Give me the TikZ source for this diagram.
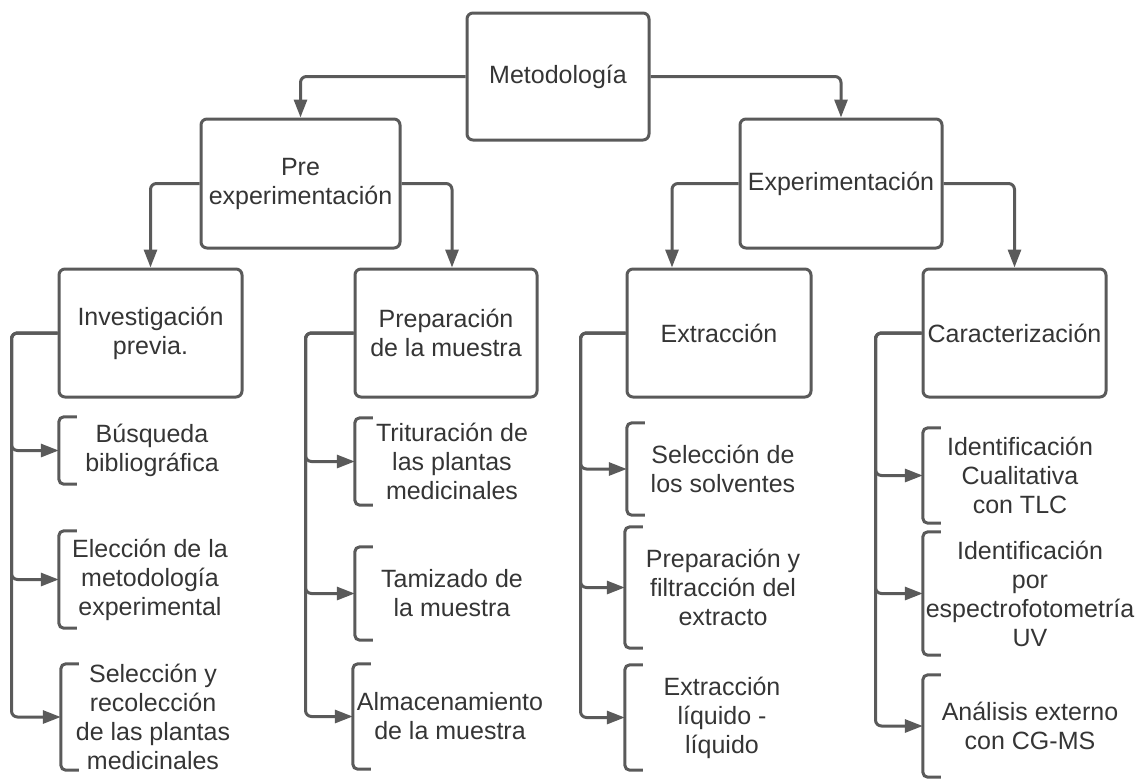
\documentclass[tikz,border=0pt]{standalone}
\usepackage{fontspec}
\setmainfont{Liberation Sans}
\usetikzlibrary{arrows.meta}

\definecolor{linegray}{HTML}{5A5A5A}
\definecolor{textgray}{HTML}{353535}

\tikzset{
  box/.style={draw=linegray, line width=3pt, rounded corners=6pt, fill=white,
    align=center, inner sep=0pt, text=textgray},
  item/.style={align=center, inner sep=0pt, text=textgray},
  conn/.style={draw=linegray, line width=3pt, rounded corners=6pt,
    -{Triangle[length=18pt,width=13pt]}},
  brk/.style={draw=linegray, line width=3pt, rounded corners=5pt},
}

\begin{document}
\begin{tikzpicture}[x=1pt, y=-1pt,
  every node/.style={font=\fontsize{25}{29}\selectfont}]

  \useasboundingbox (0,0) rectangle (1148,780);

  % --- Main boxes ---
  \node[box, minimum width=182pt, minimum height=127pt] (metod) at (558,76.5) {Metodología};

  \node[box, minimum width=199pt, minimum height=129pt] (pre) at (300.5,183.5) {Pre\\experimentación};
  \node[box, minimum width=202pt, minimum height=129pt] (exper) at (841,183.5) {Experimentación};

  \node[box, minimum width=183pt, minimum height=128pt] (inv) at (150.5,333) {Investigación\\previa.};
  \node[box, minimum width=182pt, minimum height=128pt] (prep) at (446,333) {Preparación\\de la muestra};
  \node[box, minimum width=184pt, minimum height=128pt] (extr) at (719,333) {Extracción};
  \node[box, minimum width=183pt, minimum height=128pt] (cara) at (1014.5,333) {Caracterización};

  % --- Steps, first column ---
  \node[item, minimum width=186pt, minimum height=67pt] (busq) at (152,450.5) {Búsqueda\\bibliográfica};
  \node[item, minimum width=182pt, minimum height=97pt] (elec) at (150,579.5) {Elección de la\\metodología\\experimental};
  \node[item, minimum width=184pt, minimum height=106pt] (selr) at (153,717) {Selección y\\recolección\\de las plantas\\medicinales};

  % --- Steps, second column ---
  \node[item, minimum width=194pt, minimum height=87pt] (trit) at (452,461.5) {Trituración de\\las plantas\\medicinales};
  \node[item, minimum width=194pt, minimum height=93pt] (tami) at (452,593.5) {Tamizado de\\la muestra};
  \node[item, minimum width=194pt, minimum height=105pt] (alma) at (450,716.5) {Almacenamiento\\de la muestra};

  % --- Steps, third column ---
  \node[item, minimum width=192pt, minimum height=92pt] (selsol) at (723,469) {Selección de\\los solventes};
  \node[item, minimum width=196pt, minimum height=121pt] (prepf) at (723,587.5) {Preparación y\\filtracción del\\extracto};
  \node[item, minimum width=194pt, minimum height=105pt] (extll) at (722,717.5) {Extracción\\líquido -\\líquido};

  % --- Steps, fourth column ---
  \node[item, minimum width=194pt, minimum height=95pt] (idcual) at (1020,475.5) {Identificación\\Cualitativa\\con TLC};
  \node[item, minimum width=214pt, minimum height=123pt] (idesp) at (1030,593.5) {Identificación\\por\\espectrofotometría\\UV};
  \node[item, minimum width=214pt, minimum height=102pt] (anal) at (1030,726) {Análisis externo\\con CG-MS};

  % --- Brackets ---
  \foreach \n in {busq,elec,selr,trit,tami,alma,selsol,prepf,extll,idcual,idesp,anal}
    \draw[brk] ([xshift=18pt]\n.north west) -- (\n.north west) -- (\n.south west) -- ([xshift=18pt]\n.south west);

  % --- Upper connectors ---
  \draw[conn] (metod.west) -| (pre.north);
  \draw[conn] (metod.east) -| (exper.north);
  \draw[conn] (pre.west) -| (inv.north);
  \draw[conn] (pre.east) -| ([xshift=6pt]prep.north);
  \draw[conn] (exper.west) -| ([xshift=-47pt]extr.north);
  \draw[conn] (exper.east) -| (cara.north);

  % --- Side connectors ---
  \draw[conn] (inv.west) -- ++(-46,0) |- (busq.west);
  \draw[conn] (inv.west) -- ++(-46,0) |- (elec.west);
  \draw[conn] (inv.west) -- ++(-46,0) |- (selr.west);

  \draw[conn] (prep.west) -- ++(-48,0) |- (trit.west);
  \draw[conn] (prep.west) -- ++(-48,0) |- (tami.west);
  \draw[conn] (prep.west) -- ++(-48,0) |- (alma.west);

  \draw[conn] (extr.west) -- ++(-45,0) |- (selsol.west);
  \draw[conn] (extr.west) -- ++(-45,0) |- (prepf.west);
  \draw[conn] (extr.west) -- ++(-45,0) |- (extll.west);

  \draw[conn] (cara.west) -- ++(-46,0) |- (idcual.west);
  \draw[conn] (cara.west) -- ++(-46,0) |- (idesp.west);
  \draw[conn] (cara.west) -- ++(-46,0) |- (anal.west);

\end{tikzpicture}
\end{document}
